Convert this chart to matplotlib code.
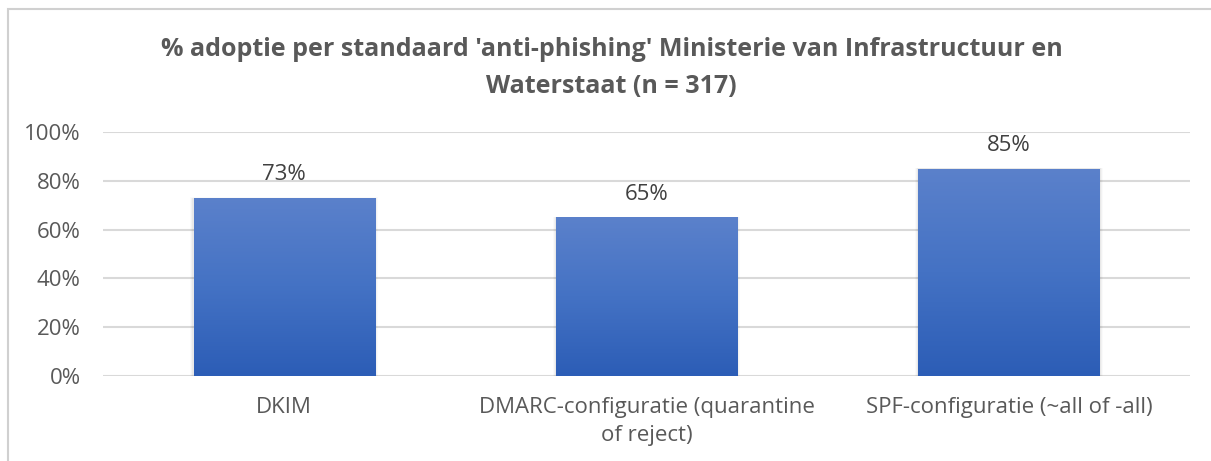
import matplotlib
matplotlib.use("Agg")
import matplotlib.pyplot as plt
import numpy as np
from matplotlib.colors import LinearSegmentedColormap
from matplotlib.patches import Rectangle
from matplotlib import font_manager

categories = ["DKIM", "DMARC-configuratie (quarantine\nof reject)", "SPF-configuratie (~all of -all)"]
values = [73, 65, 85]
yticks = [0, 20, 40, 60, 80, 100]
ytick_labels = ["0%", "20%", "40%", "60%", "80%", "100%"]
title = "% adoptie per standaard 'anti-phishing' Ministerie van Infrastructuur en\nWaterstaat (n = 317)"

available = {f.name for f in font_manager.fontManager.ttflist}
body_font = "Open Sans" if "Open Sans" in available else "DejaVu Sans"
title_font = body_font

W, H = 1211, 461
fig = plt.figure(figsize=(W / 100, H / 100), dpi=100)
fig.patch.set_facecolor("white")

# chart frame (top and left edges)
fig.add_artist(Rectangle((8 / W, -0.1), 1.2, (H - 9) / H + 0.1, transform=fig.transFigure,
                         fill=False, edgecolor="#D0D0D0", linewidth=1.5))

ax = fig.add_axes([103 / W, (H - 376) / H, (1190 - 103) / W, (376 - 132) / H])
ax.set_facecolor("none")

x = np.arange(len(categories))
bars = ax.bar(x, values, width=0.5, color="none", edgecolor="none", zorder=3)

# vertical gradient fill for each bar
cmap = LinearSegmentedColormap.from_list("bar", ["#2C5DB6", "#4472C4", "#5B81CB"])
grad = np.linspace(0, 1, 256).reshape(-1, 1)
for b in bars:
    x0, w, h = b.get_x(), b.get_width(), b.get_height()
    # soft shadow
    for i, a in enumerate([0.04, 0.03, 0.02]):
        d = 0.003 * (i + 1)
        ax.add_patch(Rectangle((x0 - d, 0), w + 2 * d, h + d * 25, facecolor="black",
                               alpha=a, edgecolor="none", zorder=2))
    im = ax.imshow(grad, extent=[x0, x0 + w, 0, h], origin="lower", cmap=cmap,
                   aspect="auto", zorder=3)
    im.set_clip_path(b)
    ax.text(b.get_x() + w / 2, h + 9.5, f"{h:.0f}%", ha="center", va="center",
            fontsize=16, color="#404040", family=body_font, zorder=4)

ax.set_xlim(-0.5, 2.5)
ax.set_ylim(0, 100)
ax.set_yticks(yticks)
ax.set_yticklabels(ytick_labels, family=body_font, fontsize=16, color="#595959")
ax.set_xticks(x)
ax.set_xticklabels(categories, family=body_font, fontsize=16, color="#595959",
                   linespacing=1.45, va="top")
ax.tick_params(axis="both", length=0)
ax.tick_params(axis="y", pad=16)
ax.tick_params(axis="x", pad=15)
ax.yaxis.grid(True, color="#D9D9D9", linewidth=1.5, zorder=0)
ax.set_axisbelow(True)
for s in ax.spines.values():
    s.set_visible(False)

fig.text(0.505, (H - 68) / H, title, ha="center", va="center", fontsize=18,
         fontweight="bold", color="#595959", family=title_font, linespacing=1.6)

fig.savefig("out.png", dpi=100, facecolor="white")
